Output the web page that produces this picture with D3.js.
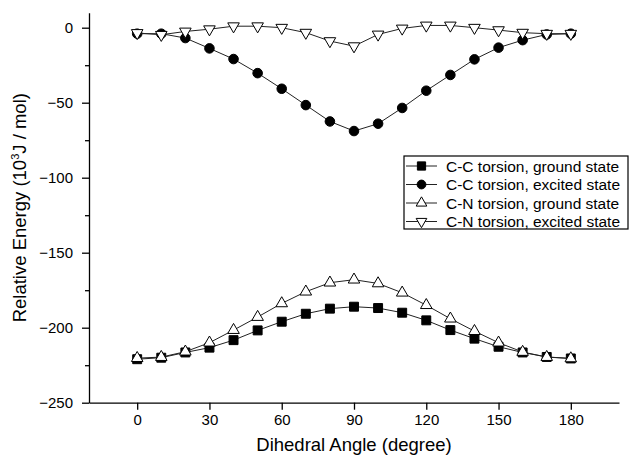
<!doctype html>
<html>
<head>
<meta charset="utf-8"/>
<title>Relative Energy vs Dihedral Angle</title>
<script src="https://d3js.org/d3.v7.min.js"></script>
<style>
body { margin:0; background:#fff; }
svg text { font-family: Arial, "Liberation Sans", sans-serif; fill:#000; }
</style>
</head>
<body>
<script>
// dihedral angles
var angles = [0,10,20,30,40,50,60,70,80,90,100,110,120,130,140,150,160,170,180];

// relative energies (10^3 J/mol)
var ccGround  = [-221,-220,-216.5,-213.3,-208.3,-201.8,-196,-190.7,-187.3,-186,-186.9,-190,-195.1,-201.6,-207.3,-212.7,-216.5,-219.5,-220.5];
var ccExcited = [-4,-4,-6.9,-13.8,-20.9,-30.3,-40.7,-51.6,-62.5,-68.9,-64,-53.5,-42,-31.5,-21.1,-13.3,-8.3,-4.5,-4];
var cnGround  = [-220.3,-219.6,-216,-210,-201.6,-192.9,-183.8,-176,-170,-168,-170.5,-176.7,-185,-194,-202.3,-210,-216.2,-219.6,-220.5];
var cnExcited = [-3.5,-4.7,-2.5,-1,1,1,0,-3.3,-8.9,-12.3,-4.5,-0.5,1.5,1.5,0,-1.6,-3.3,-4,-4];

var seriesNames = ["C-C torsion, ground state","C-C torsion, excited state","C-N torsion, ground state","C-N torsion, excited state"];

var xTicks = [0,30,60,90,120,150,180];
var yTicks = [0,-50,-100,-150,-200,-250];

var svg = d3.select("body").append("svg")
  .attr("width", 634)
  .attr("height", 456);

var x = d3.scaleLinear().domain([-20, 200]).range([89, 619]);
var y = d3.scaleLinear().domain([-250, 10]).range([402.7, 12.7]);

// axes
svg.append("g")
  .attr("transform", "translate(0,402.7)")
  .call(d3.axisBottom(x).tickValues(xTicks).tickSize(7).tickPadding(5).tickSizeOuter(0));
svg.append("g")
  .attr("transform", "translate(89,0)")
  .call(d3.axisLeft(y).tickValues(yTicks).tickSize(7).tickPadding(9).tickSizeOuter(0));
// minor y ticks
svg.append("g")
  .attr("transform", "translate(89,0)")
  .call(d3.axisLeft(y).tickValues([-25,-75,-125,-175,-225]).tickSize(4).tickFormat(""))
  .select(".domain").remove();

svg.selectAll(".domain").attr("stroke", "#000").attr("stroke-width", 1.3);
svg.selectAll(".tick line").attr("stroke", "#000").attr("stroke-width", 1.3);
svg.selectAll(".tick text").attr("font-size", 15).style("font-family", "Arial, 'Liberation Sans', sans-serif");

// axis titles
svg.append("text")
  .attr("x", x(90))
  .attr("y", 451)
  .attr("text-anchor", "middle")
  .attr("font-size", 18.5)
  .text("Dihedral Angle (degree)");

var yt = svg.append("text")
  .attr("transform", "translate(26," + y(-120) + ") rotate(-90)")
  .attr("text-anchor", "middle")
  .attr("font-size", 18.5);
yt.append("tspan").text("Relative Energy (10");
yt.append("tspan").attr("font-size", 11).attr("dy", -7).text("3");
yt.append("tspan").attr("dy", 7).text("J / mol)");

// series
var series = [
  {values: ccGround,  symbol: d3.symbolSquare,   size: 80, rot: 0,   fill: "#000"},
  {values: ccExcited, symbol: d3.symbolCircle,   size: 72, rot: 0,   fill: "#000"},
  {values: cnGround,  symbol: d3.symbolTriangle, size: 58, rot: 0,   fill: "#fff"},
  {values: cnExcited, symbol: d3.symbolTriangle, size: 58, rot: 180, fill: "#fff"}
];

var line = d3.line()
  .x(function(d,i){ return x(angles[i]); })
  .y(function(d){ return y(d); });

series.forEach(function(s){
  svg.append("path")
    .attr("d", line(s.values))
    .attr("fill", "none")
    .attr("stroke", "#222")
    .attr("stroke-width", 1);
  svg.append("g").selectAll("path")
    .data(s.values)
    .enter()
    .append("path")
    .attr("d", d3.symbol().type(s.symbol).size(s.size))
    .attr("transform", function(d,i){ return "translate(" + x(angles[i]) + "," + y(d) + ") rotate(" + s.rot + ")"; })
    .attr("fill", s.fill)
    .attr("stroke", "#000")
    .attr("stroke-width", 1);
});

// legend
var lg = svg.append("g");
lg.append("rect")
  .attr("x", 404).attr("y", 156)
  .attr("width", 224).attr("height", 73)
  .attr("fill", "#fff")
  .attr("stroke", "#000")
  .attr("stroke-width", 1.2);

series.forEach(function(s, i){
  var yy = 166 + i * 18.5;
  lg.append("line")
    .attr("x1", 406).attr("x2", 437)
    .attr("y1", yy).attr("y2", yy)
    .attr("stroke", "#222").attr("stroke-width", 1);
  lg.append("path")
    .attr("d", d3.symbol().type(s.symbol).size(s.size * 0.85))
    .attr("transform", "translate(421.5," + yy + ") rotate(" + s.rot + ")")
    .attr("fill", s.fill)
    .attr("stroke", "#000")
    .attr("stroke-width", 1);
  lg.append("text")
    .attr("x", 446)
    .attr("y", yy + 5.5)
    .attr("font-size", 15.5)
    .text(seriesNames[i]);
});
</script>
</body>
</html>
